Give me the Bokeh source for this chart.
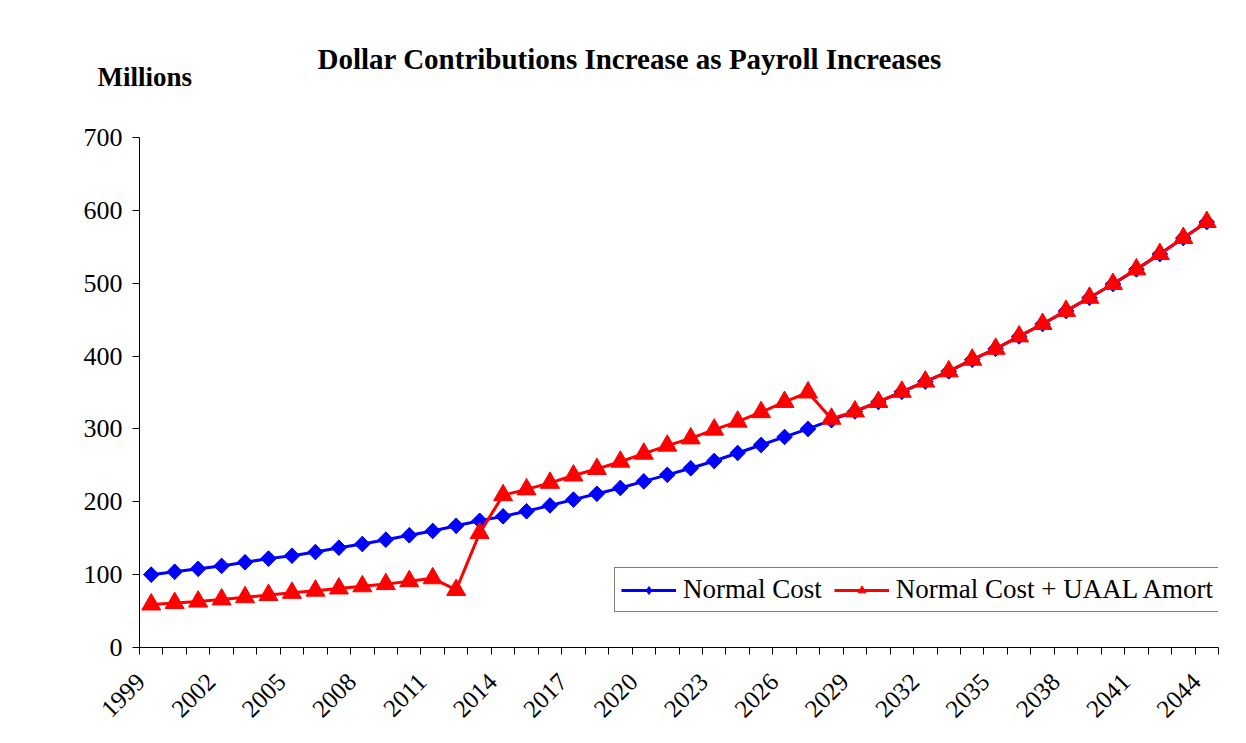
import math
from bokeh.plotting import figure
from bokeh.models import Range1d, FixedTicker, Title, Legend, LegendItem, ColumnDataSource
from bokeh.embed import file_html
from bokeh.resources import INLINE

# ---------------- data ----------------
years = [1999, 2000, 2001, 2002, 2003, 2004, 2005, 2006, 2007, 2008,
         2009, 2010, 2011, 2012, 2013, 2014, 2015, 2016, 2017, 2018,
         2019, 2020, 2021, 2022, 2023, 2024, 2025, 2026, 2027, 2028,
         2029, 2030, 2031, 2032, 2033, 2034, 2035, 2036, 2037, 2038,
         2039, 2040, 2041, 2042, 2043, 2044]

normal_cost = [100, 104, 108, 112, 117, 122, 126, 131, 137, 142,
               148, 154, 160, 167, 174, 180, 187, 195, 203, 211,
               219, 228, 237, 246, 256, 267, 278, 289, 300, 312,
               324, 337, 351, 365, 379, 395, 410, 427, 444, 462,
               480, 499, 519, 540, 562, 584]

normal_cost_uaal = [59, 61, 63, 66, 69, 72, 75, 78, 81, 84,
                    87, 91, 95, 79, 157, 209, 217, 226, 236, 245,
                    255, 266, 277, 287, 299, 310, 323, 337, 350, 314,
                    324, 337, 351, 365, 379, 395, 410, 427, 444, 462,
                    480, 499, 519, 540, 562, 584]

x_tick_labels = ["1999", "2002", "2005", "2008", "2011", "2014", "2017", "2020",
                 "2023", "2026", "2029", "2032", "2035", "2038", "2041", "2044"]
y_ticks = [0, 100, 200, 300, 400, 500, 600, 700]

title_text = "Dollar Contributions Increase as Payroll Increases"
y_unit_text = "Millions"
series_names = ["Normal Cost", "Normal Cost + UAAL Amort"]

# ---------------- figure ----------------
FONT = "Liberation Serif"
idx = list(range(len(years)))
src = ColumnDataSource(dict(x=idx, nc=normal_cost, ncu=normal_cost_uaal))

main_title = Title(text=title_text, align="left", offset=178, standoff=-122,
                   text_font=FONT, text_font_size="29px", text_font_style="bold",
                   text_color="black")

p = figure(width=1230, height=727, output_backend="svg", toolbar_location=None,
           x_range=Range1d(-0.5, len(years) - 0.5), y_range=Range1d(0, 700),
           min_border_left=139, min_border_right=12, min_border_top=137,
           min_border_bottom=80, title=main_title)
p.outline_line_color = None
p.xgrid.grid_line_color = None
p.ygrid.grid_line_color = None
p.background_fill_color = "white"
p.border_fill_color = "white"

# x axis: ticks between categories, labels every third year
label_pos = [years.index(int(t)) - 0.45 for t in x_tick_labels]
p.xaxis.ticker = FixedTicker(ticks=label_pos,
                             minor_ticks=[i - 0.5 for i in range(len(years) + 1)])
p.xaxis.major_label_overrides = {pos: t for pos, t in zip(label_pos, x_tick_labels)}
p.xaxis.major_tick_out = 0
p.xaxis.major_tick_in = 0
p.xaxis.minor_tick_out = 7
p.xaxis.minor_tick_in = 0
p.xaxis.minor_tick_line_color = "black"
p.xaxis.axis_line_color = "black"
p.xaxis.major_label_orientation = math.pi / 4
p.xaxis.major_label_standoff = 23
p.xaxis.major_label_text_font = FONT
p.xaxis.major_label_text_font_size = "25px"
p.xaxis.major_label_text_color = "black"

# y axis
p.yaxis.ticker = FixedTicker(ticks=y_ticks)
p.yaxis.major_tick_out = 7
p.yaxis.major_tick_in = 0
p.yaxis.minor_tick_line_color = None
p.yaxis.axis_line_color = "black"
p.yaxis.major_tick_line_color = "black"
p.yaxis.major_label_standoff = 10
p.yaxis.major_label_text_font = FONT
p.yaxis.major_label_text_font_size = "26px"
p.yaxis.major_label_text_color = "black"

# series
l1 = p.line("x", "nc", source=src, line_color="#0000FF", line_width=3)
d1 = p.scatter("x", "nc", source=src, marker="diamond", size=15,
               fill_color="#0000FF", line_color="#0000FF")
s1 = p.scatter("x", "nc", source=src, marker="square", angle=math.pi / 4, size=11,
               fill_color="#0000FF", line_color="#0000FF")
l2 = p.line("x", "ncu", source=src, line_color="#FF0000", line_width=3)
s2 = p.scatter("x", "ncu", source=src, marker="triangle", size=19,
               fill_color="#FF0000", line_color="#FF0000")

legend = Legend(items=[LegendItem(label=series_names[0], renderers=[l1, d1]),
                       LegendItem(label=series_names[1], renderers=[l2, s2])],
                orientation="horizontal", location=(475, 35),
                label_text_font=FONT, label_text_font_size="27px",
                label_text_color="black", glyph_width=55, glyph_height=20,
                label_standoff=7, spacing=12, padding=6, margin=0,
                border_line_color="black", border_line_width=1,
                background_fill_color="white", background_fill_alpha=1)
p.add_layout(legend, "center")

# unit label above the value axis
p.add_layout(Title(text=y_unit_text, align="left", offset=-42, standoff=92,
                   text_font=FONT, text_font_size="27px", text_font_style="bold",
                   text_color="black"), "above")

open("out.html", "w").write(file_html(p, INLINE))
